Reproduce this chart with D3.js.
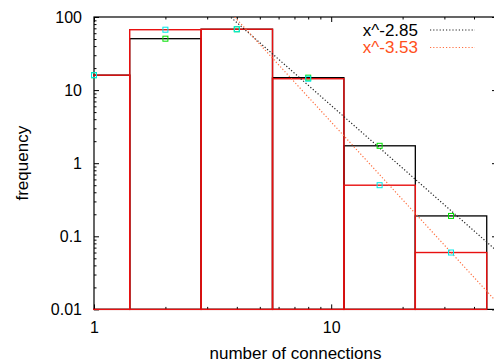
<!DOCTYPE html>
<html>
<head>
<meta charset="utf-8">
<script src="https://cdn.jsdelivr.net/npm/d3@7/dist/d3.min.js"></script>
<style>
  html, body { margin: 0; padding: 0; background: #fff; }
  svg { display: block; }
  text { font-family: "Liberation Sans", Arial, sans-serif; }
</style>
</head>
<body>
<div id="chart"></div>
<script>
// Degree distribution, log2-binned, two networks plus power-law fits
const binCenters = [1, 2, 4, 8, 16, 32];
const blackFreq  = [16, 50.5, 68, 14.8, 1.73, 0.19];
const redFreq    = [16, 67, 68, 14.3, 0.5, 0.06];

const fitLabels       = ["x^-2.85", "x^-3.53"];
const fitExponents    = [-2.85, -3.53];
const fitCoefficients = [4365, 12400];

const xTickMajor = [1, 10];
const xTickMinor = [2, 3, 4, 5, 6, 7, 8, 9, 20, 30, 40];
const yTickMajor = [0.01, 0.1, 1, 10, 100];
const yTickLabels = ["0.01", "0.1", "1", "10", "100"];
const yTickMinor = [];
[0.01, 0.1, 1, 10].forEach(d => { for (let k = 2; k <= 9; k++) yTickMinor.push(+(d * k).toPrecision(3)); });

const W = 494, H = 363;
const L = 94, R = 497, T = 17, B = 309.4;

const x = d3.scaleLog().domain([1, 50]).range([L, R]);
const y = d3.scaleLog().domain([0.01, 100]).range([B, T]);

const svg = d3.select("#chart").append("svg")
  .attr("width", W).attr("height", H);

svg.append("defs").append("clipPath").attr("id", "plot")
  .append("rect").attr("x", L - 1).attr("y", T).attr("width", R - L + 1).attr("height", B - T + 1);

const font = 16;

// ticks on all four sides, pointing inward
function ticks(axisGen, vals, size, tx, ty, labels) {
  const g = svg.append("g").attr("transform", `translate(${tx},${ty})`)
    .call(axisGen.tickValues(vals).tickSize(size).tickPadding(labels ? 12 : 0)
      .tickFormat((d, i) => labels ? labels[i] : ""));
  g.select(".domain").remove();
  g.selectAll("line").attr("stroke", "#000").attr("stroke-width", 1);
  g.selectAll("text").attr("font-size", font).attr("fill", "#000")
    .attr("font-family", '"Liberation Sans", Arial, sans-serif');
  return g;
}
ticks(d3.axisLeft(y), yTickMajor, -5, L, 0, yTickLabels);
ticks(d3.axisLeft(y), yTickMinor, -2.5, L, 0, null);
ticks(d3.axisRight(y), yTickMajor, -5, R, 0, null);
ticks(d3.axisRight(y), yTickMinor, -2.5, R, 0, null);
const xb = ticks(d3.axisBottom(x), xTickMajor, -5, 0, B, ["1", "10"]);
xb.selectAll("text").attr("dy", "0.71em").attr("y", 12);
ticks(d3.axisBottom(x), xTickMinor, -2.5, 0, B, null);
ticks(d3.axisTop(x), xTickMajor, -5, 0, T, null);
ticks(d3.axisTop(x), xTickMinor, -2.5, 0, T, null);

// frame
svg.append("rect").attr("x", L).attr("y", T).attr("width", R - L).attr("height", B - T)
  .attr("fill", "none").attr("stroke", "#000").attr("stroke-width", 1.2);

const plot = svg.append("g").attr("clip-path", "url(#plot)");

// histogram boxes, each spanning one factor-of-two bin
function boxes(vals, color, width) {
  plot.append("g").selectAll("rect").data(binCenters).join("rect")
    .attr("x", d => x(d / Math.SQRT2))
    .attr("width", d => x(d * Math.SQRT2) - x(d / Math.SQRT2))
    .attr("y", (d, i) => y(vals[i]))
    .attr("height", (d, i) => B - y(vals[i]))
    .attr("fill", "none").attr("stroke", color).attr("stroke-width", width);
}
boxes(blackFreq, "#000", 1.3);
boxes(redFreq, "#e81010", 1.4);

// power-law fits
const fitColors = ["#222", "#ff7040"];
const line = d3.line().x(d => x(d[0])).y(d => y(d[1]));
fitExponents.forEach((a, i) => {
  const pts = [1, 50].map(v => [v, fitCoefficients[i] * Math.pow(v, a)]);
  plot.append("path").attr("d", line(pts)).attr("fill", "none")
    .attr("stroke", fitColors[i]).attr("stroke-width", 1.2)
    .attr("stroke-dasharray", "1.2,2");
});

// data points
function points(vals, color) {
  svg.append("g").selectAll("rect").data(binCenters).join("rect")
    .attr("x", d => x(d) - 2.5).attr("y", (d, i) => y(vals[i]) - 2.5)
    .attr("width", 5).attr("height", 5)
    .attr("fill", "none").attr("stroke", color).attr("stroke-width", 1);
}
points(blackFreq, "#00e000");
points(redFreq, "#00e8e8");

// legend
const legendText = ["#000", "#ff5020"];
fitLabels.forEach((t, i) => {
  const yy = 30 + i * 17.5;
  svg.append("text").attr("x", 418).attr("y", yy).attr("dy", "0.35em")
    .attr("text-anchor", "end").attr("font-size", 17).attr("fill", legendText[i]).text(t);
  svg.append("line").attr("x1", 430).attr("x2", 475).attr("y1", yy).attr("y2", yy)
    .attr("stroke", fitColors[i]).attr("stroke-width", 1.2).attr("stroke-dasharray", "1.2,2");
});

// axis titles
svg.append("text").attr("x", (L + R) / 2).attr("y", 359).attr("text-anchor", "middle")
  .attr("font-size", 17).text("number of connections");
svg.append("text").attr("transform", `translate(28,${(T + B) / 2}) rotate(-90)`)
  .attr("text-anchor", "middle").attr("font-size", 17).text("frequency");
</script>
</body>
</html>
